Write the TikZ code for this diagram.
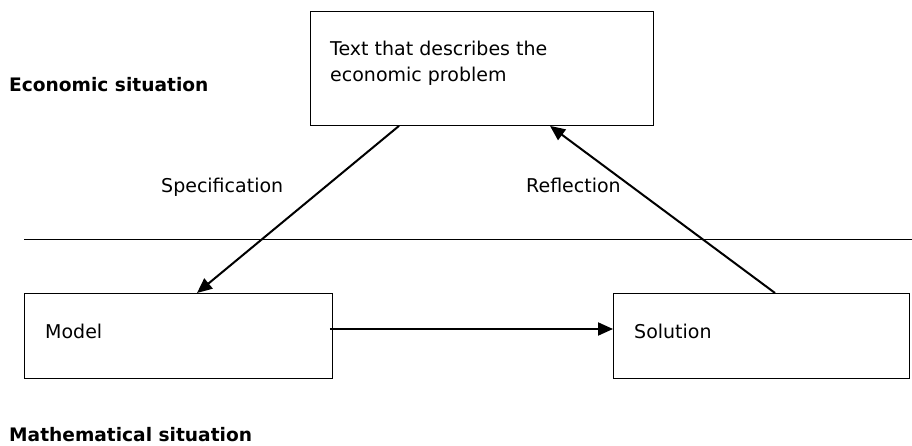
\documentclass[tikz,border=0pt]{standalone}
\usepackage{fontspec}
\setmainfont{DejaVu Sans}
\usetikzlibrary{arrows.meta,calc}
\begin{document}
\begin{tikzpicture}[x=1pt,y=-1pt,
  box/.style={draw=black,line width=0.9pt,rectangle,inner sep=0pt,anchor=north west},
  lbl/.style={anchor=base west,inner sep=0pt,font=\fontsize{19}{23}\selectfont},
  head/.style={anchor=base west,inner sep=0pt,font=\fontsize{18.6}{22}\selectfont\bfseries},
  flow/.style={line width=2pt,-{Triangle[length=15pt,width=13pt]}}]
  \useasboundingbox (0,0) rectangle (912,446);

  % boxes
  \node[box,minimum width=343pt,minimum height=114pt] (text) at (310,11) {};
  \node[box,minimum width=308pt,minimum height=85pt] (model) at (24,293) {};
  \node[box,minimum width=296pt,minimum height=85pt] (solution) at (613,293) {};

  % separator between the two levels
  \coordinate (sepL) at (24,239);
  \coordinate (sepR) at (912,239);
  \draw[line width=0.9pt] (sepL) -- (sepR);

  % texts
  \node[lbl] (t1) at (330,56) {Text that describes the};
  \node[lbl] (t2) at (330,82) {economic problem};
  \node[lbl] (m) at (45,338) {Model};
  \node[lbl] (s) at (634,338) {Solution};
  \node[lbl] (spec) at (161,193) {Specification};
  \node[lbl] (refl) at (526,193) {Reflection};
  \node[head] (econ) at (9,92) {Economic situation};
  \node[head] (math) at (9,441) {Mathematical situation};

  % connector end points on the box borders
  \path (text.south west) ++(89,0) coordinate (specA);
  \path (model.north west) ++(173,0) coordinate (specB);
  \path (solution.north west) ++(162,0) coordinate (reflA);
  \path (text.south west) ++(240,0) coordinate (reflB);
  \path (model.north east) ++(-3,36) coordinate (modA);

  \draw[flow] (specA) -- (specB);
  \draw[flow] (reflA) -- (reflB);
  \draw[flow] (modA) -- (modA -| solution.west);
\end{tikzpicture}
\end{document}
